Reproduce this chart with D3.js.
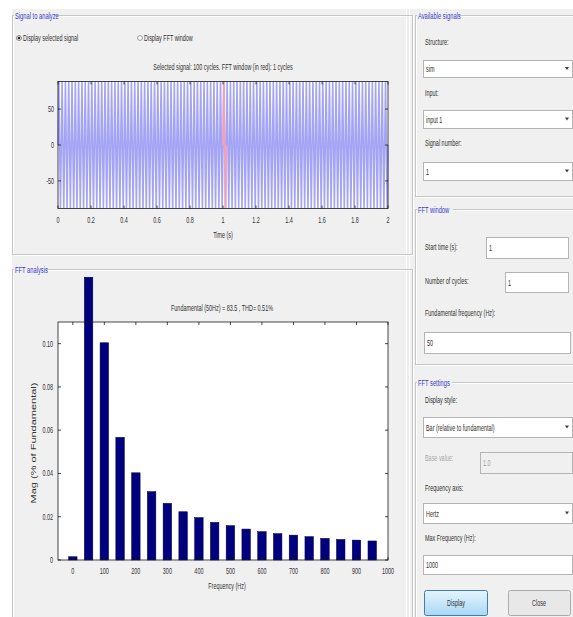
<!DOCTYPE html>
<html>
<head>
<meta charset="utf-8">
<script src="https://cdn.jsdelivr.net/npm/d3@7"></script>
<style>
  body { margin: 0; background: #fff; }
  svg { display: block; font-family: "Liberation Sans", Arial, sans-serif; }
</style>
</head>
<body>
<svg id="fig"></svg>
<script>
// ---- data ----
const timeTicks = [0, 0.2, 0.4, 0.6, 0.8, 1, 1.2, 1.4, 1.6, 1.8, 2];
const signalTicks = [-50, 0, 50];
const signalLimit = 88.4;          // y-limits of the signal plot
const signalFreq = 50;             // Hz
const signalCycles = 100;
const cycleShape = [0, 88.4, 0, -88.4];   // one period, 4 samples
const windowStart = 1;
const windowCycles = 1;

const harmonicFreqs = [0, 50, 100, 150, 200, 250, 300, 350, 400, 450, 500, 550, 600, 650, 700, 750, 800, 850, 900, 950];
const harmonicMags = [0.0015, 0.1307, 0.1004, 0.0567, 0.0403, 0.0316, 0.0262, 0.0223, 0.0196, 0.0174,
                      0.0159, 0.0143, 0.0131, 0.0122, 0.0115, 0.0108, 0.0100, 0.0095, 0.0092, 0.0088];
const freqTicks = [0, 100, 200, 300, 400, 500, 600, 700, 800, 900, 1000];
const magTicks = [0, 0.02, 0.04, 0.06, 0.08, 0.10];

const W = 573, H = 617;
const svg = d3.select("#fig").attr("width", W).attr("height", H);
const txtColor = "#303030";
const squeeze = 0.64;   // screenshot text is horizontally squashed

// text helper: narrow text via horizontal scale
function txt(parent, x, y, s, opts = {}) {
  return parent.append("text")
    .attr("transform", `translate(${x},${y}) scale(${squeeze},1)`)
    .attr("text-anchor", opts.anchor || "start")
    .attr("font-size", opts.size || 8.5)
    .attr("fill", opts.color || txtColor)
    .text(s);
}

/** Window background
------------------------------------------------------------*/
svg.append("rect").attr("width", W).attr("height", H).attr("fill", "#fff");
svg.append("rect").attr("x", 12).attr("y", 9).attr("width", 394).attr("height", H - 9).attr("fill", "#f0f0f0");
svg.append("rect").attr("x", 410).attr("y", 9).attr("width", W - 410).attr("height", H - 9).attr("fill", "#f0f0f0");
svg.append("line").attr("x1", 408).attr("x2", 408).attr("y1", 9).attr("y2", H).attr("stroke", "#d8d8d8");

function frame(x, y, w, h, title, titleW) {
  const g = svg.append("g");
  g.append("rect").attr("x", x + 0.5).attr("y", y + 0.5).attr("width", w).attr("height", h)
    .attr("fill", "none").attr("stroke", "#fff");
  g.append("rect").attr("x", x - 0.5).attr("y", y - 0.5).attr("width", w).attr("height", h)
    .attr("fill", "none").attr("stroke", "#c6c6c6");
  g.append("rect").attr("x", x + 1).attr("y", y - 6).attr("width", titleW).attr("height", 12).attr("fill", "#f0f0f0");
  txt(g, x + 2, y + 3, title, { color: "#3a3ac8", size: 9 });
}

function box(x, y, w, h, s, opts = {}) {
  svg.append("rect").attr("x", x + 0.5).attr("y", y + 0.5).attr("width", w).attr("height", h)
    .attr("fill", opts.disabled ? "#f0f0f0" : "#fff").attr("stroke", "#b4b4b4");
  txt(svg, x + 3, y + h / 2 + 3.5, s, { color: opts.disabled ? "#a0a0a0" : txtColor });
  if (opts.drop) {
    svg.append("path")
      .attr("d", `M${x + w - 7},${y + h / 2 - 1.5} l4,0 l-2,3 z`)
      .attr("fill", "#404040");
  }
}

/** Frames
------------------------------------------------------------*/
frame(13, 16, 400, 239, "Signal to analyze", 41);
frame(13, 270, 400, 360, "FFT analysis", 32);
frame(416, 16, 170, 181, "Available signals", 42);
frame(416, 210, 170, 155, "FFT window", 36);
frame(416, 383, 170, 250, "FFT settings", 35);

// radios
svg.append("circle").attr("cx", 19).attr("cy", 38).attr("r", 2.4).attr("fill", "#fff").attr("stroke", "#777");
svg.append("circle").attr("cx", 19).attr("cy", 38).attr("r", 1.2).attr("fill", "#222");
txt(svg, 23, 41, "Display selected signal");
svg.append("circle").attr("cx", 140).attr("cy", 38).attr("r", 2.4).attr("fill", "#fff").attr("stroke", "#999");
txt(svg, 144, 41, "Display FFT window");

/** Signal plot
------------------------------------------------------------*/
const sp = { x0: 58, x1: 388, y0: 81.5, y1: 208.5 };
const tx = d3.scaleLinear().domain([0, 2]).range([sp.x0, sp.x1]);
const sy = d3.scaleLinear().domain([-signalLimit, signalLimit]).range([sp.y1, sp.y0]);

svg.append("rect").attr("x", sp.x0).attr("y", sp.y0).attr("width", sp.x1 - sp.x0).attr("height", sp.y1 - sp.y0).attr("fill", "#fff");

const samples = [];
for (let c = 0; c < signalCycles; c++) {
  cycleShape.forEach((v, k) => samples.push({ t: (c + k / cycleShape.length) / signalFreq, v: v }));
}
samples.push({ t: signalCycles / signalFreq, v: cycleShape[0] });

const sigLine = d3.line().x(d => tx(d.t)).y(d => sy(d.v));
svg.append("path").datum(samples).attr("d", sigLine)
  .attr("fill", "none").attr("stroke", "#a4a4f6").attr("stroke-width", 1.6);

const win = samples.filter(d => d.t >= windowStart && d.t <= windowStart + windowCycles / signalFreq + 1e-9);
svg.append("path").datum(win).attr("d", sigLine)
  .attr("fill", "none").attr("stroke", "#f2a0b8").attr("stroke-width", 1.8);

function axesBox(x0, x1, y0, y1) {
  svg.append("rect").attr("x", x0).attr("y", y0).attr("width", x1 - x0).attr("height", y1 - y0)
    .attr("fill", "none").attr("stroke", "#1a1a1a").attr("stroke-width", 0.8);
}
axesBox(sp.x0, sp.x1, sp.y0, sp.y1);

const tAxis = svg.append("g");
timeTicks.forEach(t => {
  tAxis.append("line").attr("x1", tx(t)).attr("x2", tx(t)).attr("y1", sp.y1).attr("y2", sp.y1 - 3).attr("stroke", "#1a1a1a").attr("stroke-width", 0.8);
  tAxis.append("line").attr("x1", tx(t)).attr("x2", tx(t)).attr("y1", sp.y0).attr("y2", sp.y0 + 3).attr("stroke", "#1a1a1a").attr("stroke-width", 0.8);
  txt(tAxis, tx(t), sp.y1 + 14, t, { anchor: "middle" });
});
signalTicks.forEach(v => {
  tAxis.append("line").attr("x1", sp.x0).attr("x2", sp.x0 + 3).attr("y1", sy(v)).attr("y2", sy(v)).attr("stroke", "#1a1a1a").attr("stroke-width", 0.8);
  tAxis.append("line").attr("x1", sp.x1).attr("x2", sp.x1 - 3).attr("y1", sy(v)).attr("y2", sy(v)).attr("stroke", "#1a1a1a").attr("stroke-width", 0.8);
  txt(tAxis, sp.x0 - 4, sy(v) + 3, v, { anchor: "end" });
});
txt(svg, (sp.x0 + sp.x1) / 2, 238, "Time (s)", { anchor: "middle" });
txt(svg, 223, 70, "Selected signal: 100 cycles. FFT window (in red): 1 cycles", { anchor: "middle" });

/** FFT bar plot
------------------------------------------------------------*/
const fp = { x0: 58, x1: 388, y0: 322, y1: 560 };
const fx = d3.scaleLinear().domain([-47, 1000]).range([fp.x0, fp.x1]);
const fy = d3.scaleLinear().domain([0, 0.11]).range([fp.y1, fp.y0]);
const barHz = 27;

svg.append("rect").attr("x", fp.x0).attr("y", fp.y0).attr("width", fp.x1 - fp.x0).attr("height", fp.y1 - fp.y0).attr("fill", "#fff");

svg.append("g").selectAll("rect")
  .data(harmonicFreqs.map((f, i) => ({ f: f, m: harmonicMags[i] })))
  .enter().append("rect")
  .attr("x", d => fx(d.f - barHz / 2))
  .attr("width", d => fx(barHz) - fx(0))
  .attr("y", d => fy(d.m))
  .attr("height", d => fy(0) - fy(d.m))
  .attr("fill", "#00007f")
  .attr("stroke", "#000040").attr("stroke-width", 0.5);

axesBox(fp.x0, fp.x1, fp.y0, fp.y1);

const fAxis = svg.append("g");
freqTicks.forEach(f => {
  fAxis.append("line").attr("x1", fx(f)).attr("x2", fx(f)).attr("y1", fp.y1).attr("y2", fp.y1 - 3).attr("stroke", "#1a1a1a").attr("stroke-width", 0.8);
  fAxis.append("line").attr("x1", fx(f)).attr("x2", fx(f)).attr("y1", fp.y0).attr("y2", fp.y0 + 3).attr("stroke", "#1a1a1a").attr("stroke-width", 0.8);
  txt(fAxis, fx(f), fp.y1 + 14, f, { anchor: "middle" });
});
magTicks.forEach(m => {
  fAxis.append("line").attr("x1", fp.x0).attr("x2", fp.x0 + 3).attr("y1", fy(m)).attr("y2", fy(m)).attr("stroke", "#1a1a1a").attr("stroke-width", 0.8);
  fAxis.append("line").attr("x1", fp.x1).attr("x2", fp.x1 - 3).attr("y1", fy(m)).attr("y2", fy(m)).attr("stroke", "#1a1a1a").attr("stroke-width", 0.8);
  txt(fAxis, fp.x0 - 5, fy(m) + 3, m === 0 ? "0" : d3.format(".2f")(m), { anchor: "end" });
});
txt(svg, (fp.x0 + fp.x1) / 2 + 4, 589, "Frequency (Hz)", { anchor: "middle" });
// rotated label: squashed across its glyph height, full length along y
svg.append("text").attr("transform", `translate(36,443) scale(${squeeze},1) rotate(-90)`).attr("text-anchor", "middle")
  .attr("font-size", 11).attr("fill", txtColor).text("Mag (% of Fundamental)");
txt(svg, 222, 311, "Fundamental (50Hz) = 83.5 , THD= 0.51%", { anchor: "middle" });

/** Right-hand controls
------------------------------------------------------------*/
txt(svg, 425, 45, "Structure:");
box(423, 60, 149, 17, "sim", { drop: true });
txt(svg, 425, 96, "Input:");
box(423, 110, 149, 18, "input 1", { drop: true });
txt(svg, 425, 146, "Signal number:");
box(423, 162, 149, 18, "1", { drop: true });

txt(svg, 425, 250, "Start time (s):");
box(486, 237, 82, 21, "1");
txt(svg, 425, 284, "Number of cycles:");
box(505, 272, 63, 20, "1");
txt(svg, 425, 316, "Fundamental frequency (Hz):");
box(424, 332, 146, 21, "50");

txt(svg, 425, 403, "Display style:");
box(423, 417, 149, 20, "Bar (relative to fundamental)", { drop: true });
txt(svg, 425, 461, "Base value:", { color: "#a8a8a8" });
box(480, 452, 92, 21, "1.0", { disabled: true });
txt(svg, 425, 491, "Frequency axis:");
box(423, 503, 149, 20, "Hertz", { drop: true });
txt(svg, 425, 541, "Max Frequency (Hz):");
box(423, 555, 149, 19, "1000");

// buttons
const grad = svg.append("defs").append("linearGradient").attr("id", "btnBlue").attr("x1", 0).attr("x2", 0).attr("y1", 0).attr("y2", 1);
grad.append("stop").attr("offset", 0).attr("stop-color", "#e6f4fc");
grad.append("stop").attr("offset", 1).attr("stop-color", "#a9d8f5");
svg.append("rect").attr("x", 424.5).attr("y", 590.5).attr("width", 63).attr("height", 25).attr("rx", 2)
  .attr("fill", "url(#btnBlue)").attr("stroke", "#3c7fb1");
txt(svg, 456, 606, "Display", { anchor: "middle" });
svg.append("rect").attr("x", 508.5).attr("y", 590.5).attr("width", 62).attr("height", 25).attr("rx", 2)
  .attr("fill", "#e8e8e8").attr("stroke", "#acacac");
txt(svg, 539, 606, "Close", { anchor: "middle" });
</script>
</body>
</html>
